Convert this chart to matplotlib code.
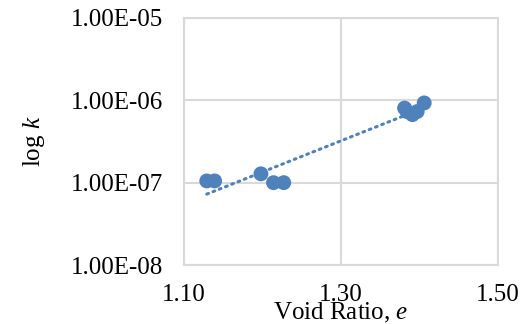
import numpy as np
import matplotlib
matplotlib.use("Agg")
import matplotlib.pyplot as plt
import matplotlib.ticker as ticker

plt.rcParams['font.family'] = ['Liberation Serif', 'DejaVu Serif']
plt.rcParams['mathtext.fontset'] = 'custom'
plt.rcParams['mathtext.it'] = 'Liberation Serif:italic'
plt.rcParams['mathtext.rm'] = 'Liberation Serif'

# void ratio e and permeability k
void_ratio = [1.129, 1.139, 1.198, 1.214, 1.227, 1.381, 1.384, 1.391, 1.397, 1.406]
perm_k = [1.05e-7, 1.05e-7, 1.28e-7, 1.0e-7, 1.0e-7, 8.05e-7, 7.3e-7, 6.7e-7, 7.3e-7, 9.3e-7]

x_ticks = [1.10, 1.30, 1.50]
y_ticks = [1e-8, 1e-7, 1e-6, 1e-5]

blue = '#4F81BD'
grid = '#D9D9D9'
fs = 18

fig = plt.figure(figsize=(5.29, 3.24), dpi=100)
ax = fig.add_axes([184 / 529, 1 - 265 / 324, (498 - 184) / 529, (265 - 18) / 324])

x = np.array(void_ratio)
y = np.array(perm_k)

# Excel-style exponential trendline
slope, icpt = np.polyfit(x, np.log(y), 1)
xt = np.linspace(x.min(), x.max(), 50)
ax.plot(xt, np.exp(icpt + slope * xt), color=blue, lw=2.2, ls=(0, (0.6, 1.6)),
        dash_capstyle='round', zorder=2)

ax.scatter(x, y, s=115, color=blue, edgecolors='none', zorder=3)

ax.set_yscale('log')
ax.set_xlim(1.10, 1.50)
ax.set_ylim(1e-8, 1e-5)
ax.set_xticks(x_ticks)
ax.set_xticklabels([f"{v:.2f}" for v in x_ticks])
ax.set_yticks(y_ticks)
ax.set_yticklabels([f"{v:.2E}" for v in y_ticks])
ax.yaxis.set_minor_locator(ticker.NullLocator())
ax.xaxis.set_minor_locator(ticker.NullLocator())

ax.grid(True, color=grid, lw=1.5, zorder=0)
for sp in ax.spines.values():
    sp.set_color(grid)
    sp.set_linewidth(1.5)
ax.tick_params(axis='y', length=0, labelsize=fs, pad=15)
ax.tick_params(axis='x', length=0, labelsize=fs, pad=14)

ax.set_xlabel('Void Ratio, $e$', fontsize=fs, labelpad=-4)
ax.set_ylabel('log $k$', fontsize=fs, labelpad=17)

fig.savefig('out.png', dpi=100)
